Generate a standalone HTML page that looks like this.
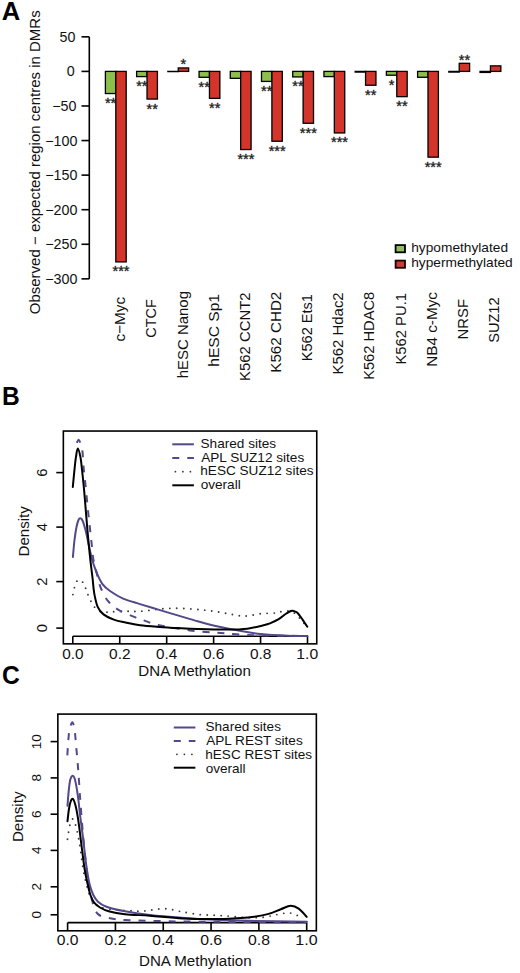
<!DOCTYPE html><html><head><meta charset="utf-8"><style>html,body{margin:0;padding:0;background:#fff;}svg{display:block}</style></head><body>
<svg width="520" height="973" viewBox="0 0 520 973">
<rect width="520" height="973" fill="#fff"/>
<text transform="translate(1.69,20.00) scale(1.0235,1)" font-size="25" font-family="Liberation Sans, sans-serif" font-weight="bold" fill="#000">A</text>
<line x1="89.3" y1="36.83" x2="89.3" y2="278.85" stroke="#000" stroke-width="1.6"/>
<line x1="81.5" y1="36.83" x2="89.3" y2="36.83" stroke="#000" stroke-width="1.6"/>
<text transform="translate(59.46,41.83) scale(1.0000,1)" font-size="14.3" font-family="Liberation Sans, sans-serif" fill="#111">50</text>
<line x1="81.5" y1="71.40" x2="89.3" y2="71.40" stroke="#000" stroke-width="1.6"/>
<text transform="translate(66.86,76.40) scale(1.0000,1)" font-size="14.3" font-family="Liberation Sans, sans-serif" fill="#111">0</text>
<line x1="81.5" y1="105.98" x2="89.3" y2="105.98" stroke="#000" stroke-width="1.6"/>
<text transform="translate(52.26,110.98) scale(1.0000,1)" font-size="14.3" font-family="Liberation Sans, sans-serif" fill="#111">−50</text>
<line x1="81.5" y1="140.55" x2="89.3" y2="140.55" stroke="#000" stroke-width="1.6"/>
<text transform="translate(45.25,145.55) scale(1.0000,1)" font-size="14.3" font-family="Liberation Sans, sans-serif" fill="#111">−100</text>
<line x1="81.5" y1="175.12" x2="89.3" y2="175.12" stroke="#000" stroke-width="1.6"/>
<text transform="translate(45.25,180.12) scale(1.0000,1)" font-size="14.3" font-family="Liberation Sans, sans-serif" fill="#111">−150</text>
<line x1="81.5" y1="209.70" x2="89.3" y2="209.70" stroke="#000" stroke-width="1.6"/>
<text transform="translate(45.25,214.70) scale(1.0000,1)" font-size="14.3" font-family="Liberation Sans, sans-serif" fill="#111">−200</text>
<line x1="81.5" y1="244.28" x2="89.3" y2="244.28" stroke="#000" stroke-width="1.6"/>
<text transform="translate(45.25,249.28) scale(1.0000,1)" font-size="14.3" font-family="Liberation Sans, sans-serif" fill="#111">−250</text>
<line x1="81.5" y1="278.85" x2="89.3" y2="278.85" stroke="#000" stroke-width="1.6"/>
<text transform="translate(45.25,283.85) scale(1.0000,1)" font-size="14.3" font-family="Liberation Sans, sans-serif" fill="#111">−300</text>
<text transform="translate(40.20,314.25) rotate(-90) scale(1.0000,1)" font-size="15" font-family="Liberation Sans, sans-serif" fill="#111">Observed − expected region centres in DMRs</text>
<text x="110.60" y="108.00" font-size="14.5" font-family="Liberation Sans, sans-serif" text-anchor="middle" fill="#222" stroke="#222" stroke-width="0.35" stroke-linejoin="round">**</text>
<text x="121.00" y="276.38" font-size="14.5" font-family="Liberation Sans, sans-serif" text-anchor="middle" fill="#222" stroke="#222" stroke-width="0.35" stroke-linejoin="round">***</text>
<text x="141.82" y="91.05" font-size="14.5" font-family="Liberation Sans, sans-serif" text-anchor="middle" fill="#222" stroke="#222" stroke-width="0.35" stroke-linejoin="round">**</text>
<text x="152.22" y="113.53" font-size="14.5" font-family="Liberation Sans, sans-serif" text-anchor="middle" fill="#222" stroke="#222" stroke-width="0.35" stroke-linejoin="round">**</text>
<text x="183.44" y="69.21" font-size="14.5" font-family="Liberation Sans, sans-serif" text-anchor="middle" fill="#222" stroke="#222" stroke-width="0.35" stroke-linejoin="round">*</text>
<text x="204.26" y="91.75" font-size="14.5" font-family="Liberation Sans, sans-serif" text-anchor="middle" fill="#222" stroke="#222" stroke-width="0.35" stroke-linejoin="round">**</text>
<text x="214.66" y="112.84" font-size="14.5" font-family="Liberation Sans, sans-serif" text-anchor="middle" fill="#222" stroke="#222" stroke-width="0.35" stroke-linejoin="round">**</text>
<text x="245.88" y="164.01" font-size="14.5" font-family="Liberation Sans, sans-serif" text-anchor="middle" fill="#222" stroke="#222" stroke-width="0.35" stroke-linejoin="round">***</text>
<text x="266.70" y="95.89" font-size="14.5" font-family="Liberation Sans, sans-serif" text-anchor="middle" fill="#222" stroke="#222" stroke-width="0.35" stroke-linejoin="round">**</text>
<text x="277.10" y="155.71" font-size="14.5" font-family="Liberation Sans, sans-serif" text-anchor="middle" fill="#222" stroke="#222" stroke-width="0.35" stroke-linejoin="round">***</text>
<text x="297.92" y="91.40" font-size="14.5" font-family="Liberation Sans, sans-serif" text-anchor="middle" fill="#222" stroke="#222" stroke-width="0.35" stroke-linejoin="round">**</text>
<text x="308.32" y="137.73" font-size="14.5" font-family="Liberation Sans, sans-serif" text-anchor="middle" fill="#222" stroke="#222" stroke-width="0.35" stroke-linejoin="round">***</text>
<text x="339.54" y="147.41" font-size="14.5" font-family="Liberation Sans, sans-serif" text-anchor="middle" fill="#222" stroke="#222" stroke-width="0.35" stroke-linejoin="round">***</text>
<text x="370.76" y="99.70" font-size="14.5" font-family="Liberation Sans, sans-serif" text-anchor="middle" fill="#222" stroke="#222" stroke-width="0.35" stroke-linejoin="round">**</text>
<text x="391.58" y="89.67" font-size="14.5" font-family="Liberation Sans, sans-serif" text-anchor="middle" fill="#222" stroke="#222" stroke-width="0.35" stroke-linejoin="round">*</text>
<text x="401.98" y="111.11" font-size="14.5" font-family="Liberation Sans, sans-serif" text-anchor="middle" fill="#222" stroke="#222" stroke-width="0.35" stroke-linejoin="round">**</text>
<text x="433.20" y="171.61" font-size="14.5" font-family="Liberation Sans, sans-serif" text-anchor="middle" fill="#222" stroke="#222" stroke-width="0.35" stroke-linejoin="round">***</text>
<text x="464.42" y="64.58" font-size="14.5" font-family="Liberation Sans, sans-serif" text-anchor="middle" fill="#222" stroke="#222" stroke-width="0.35" stroke-linejoin="round">**</text>
<rect x="105.40" y="71.40" width="10.4" height="22.13" fill="#8CBF4C" stroke="#000" stroke-width="1.3"/>
<rect x="115.80" y="71.40" width="10.4" height="190.51" fill="#D3352B" stroke="#000" stroke-width="1.3"/>
<rect x="136.62" y="71.40" width="10.4" height="5.19" fill="#8CBF4C" stroke="#000" stroke-width="1.3"/>
<rect x="147.02" y="71.40" width="10.4" height="27.66" fill="#D3352B" stroke="#000" stroke-width="1.3"/>
<rect x="167.84" y="71.40" width="10.4" height="0.21" fill="#8CBF4C" stroke="#000" stroke-width="1.3"/>
<rect x="178.24" y="67.94" width="10.4" height="3.46" fill="#D3352B" stroke="#000" stroke-width="1.3"/>
<rect x="199.06" y="71.40" width="10.4" height="5.88" fill="#8CBF4C" stroke="#000" stroke-width="1.3"/>
<rect x="209.46" y="71.40" width="10.4" height="26.97" fill="#D3352B" stroke="#000" stroke-width="1.3"/>
<rect x="230.28" y="71.40" width="10.4" height="6.92" fill="#8CBF4C" stroke="#000" stroke-width="1.3"/>
<rect x="240.68" y="71.40" width="10.4" height="78.14" fill="#D3352B" stroke="#000" stroke-width="1.3"/>
<rect x="261.50" y="71.40" width="10.4" height="10.03" fill="#8CBF4C" stroke="#000" stroke-width="1.3"/>
<rect x="271.90" y="71.40" width="10.4" height="69.84" fill="#D3352B" stroke="#000" stroke-width="1.3"/>
<rect x="292.72" y="71.40" width="10.4" height="5.53" fill="#8CBF4C" stroke="#000" stroke-width="1.3"/>
<rect x="303.12" y="71.40" width="10.4" height="51.86" fill="#D3352B" stroke="#000" stroke-width="1.3"/>
<rect x="323.94" y="71.40" width="10.4" height="5.19" fill="#8CBF4C" stroke="#000" stroke-width="1.3"/>
<rect x="334.34" y="71.40" width="10.4" height="61.54" fill="#D3352B" stroke="#000" stroke-width="1.3"/>
<rect x="355.16" y="71.40" width="10.4" height="0.69" fill="#8CBF4C" stroke="#000" stroke-width="1.3"/>
<rect x="365.56" y="71.40" width="10.4" height="13.83" fill="#D3352B" stroke="#000" stroke-width="1.3"/>
<rect x="386.38" y="71.40" width="10.4" height="3.80" fill="#8CBF4C" stroke="#000" stroke-width="1.3"/>
<rect x="396.78" y="71.40" width="10.4" height="25.24" fill="#D3352B" stroke="#000" stroke-width="1.3"/>
<rect x="417.60" y="71.40" width="10.4" height="5.88" fill="#8CBF4C" stroke="#000" stroke-width="1.3"/>
<rect x="428.00" y="71.40" width="10.4" height="85.75" fill="#D3352B" stroke="#000" stroke-width="1.3"/>
<rect x="448.82" y="71.40" width="10.4" height="0.69" fill="#8CBF4C" stroke="#000" stroke-width="1.3"/>
<rect x="459.22" y="63.31" width="10.4" height="8.09" fill="#D3352B" stroke="#000" stroke-width="1.3"/>
<rect x="480.04" y="71.40" width="10.4" height="1.04" fill="#8CBF4C" stroke="#000" stroke-width="1.3"/>
<rect x="490.44" y="65.87" width="10.4" height="5.53" fill="#D3352B" stroke="#000" stroke-width="1.3"/>
<text transform="translate(125.32,341.41) rotate(-90) scale(1.0042,1)" font-size="15.2" font-family="Liberation Sans, sans-serif" fill="#111">c−Myc</text>
<text transform="translate(156.46,337.72) rotate(-90) scale(0.9537,1)" font-size="15.2" font-family="Liberation Sans, sans-serif" fill="#111">CTCF</text>
<text transform="translate(187.60,378.35) rotate(-90) scale(0.9857,1)" font-size="15.2" font-family="Liberation Sans, sans-serif" fill="#111">hESC Nanog</text>
<text transform="translate(218.74,366.69) rotate(-90) scale(1.0252,1)" font-size="15.2" font-family="Liberation Sans, sans-serif" fill="#111">hESC Sp1</text>
<text transform="translate(249.88,380.89) rotate(-90) scale(0.9801,1)" font-size="15.2" font-family="Liberation Sans, sans-serif" fill="#111">K562 CCNT2</text>
<text transform="translate(281.02,372.71) rotate(-90) scale(0.9988,1)" font-size="15.2" font-family="Liberation Sans, sans-serif" fill="#111">K562 CHD2</text>
<text transform="translate(312.16,361.16) rotate(-90) scale(0.9568,1)" font-size="15.2" font-family="Liberation Sans, sans-serif" fill="#111">K562 Ets1</text>
<text transform="translate(343.30,374.39) rotate(-90) scale(0.9807,1)" font-size="15.2" font-family="Liberation Sans, sans-serif" fill="#111">K562 Hdac2</text>
<text transform="translate(374.44,379.87) rotate(-90) scale(0.9656,1)" font-size="15.2" font-family="Liberation Sans, sans-serif" fill="#111">K562 HDAC8</text>
<text transform="translate(405.58,364.58) rotate(-90) scale(0.9736,1)" font-size="15.2" font-family="Liberation Sans, sans-serif" fill="#111">K562 PU.1</text>
<text transform="translate(436.72,366.83) rotate(-90) scale(1.0075,1)" font-size="15.2" font-family="Liberation Sans, sans-serif" fill="#111">NB4 c-Myc</text>
<text transform="translate(467.86,339.39) rotate(-90) scale(0.9767,1)" font-size="15.2" font-family="Liberation Sans, sans-serif" fill="#111">NRSF</text>
<text transform="translate(499.00,342.83) rotate(-90) scale(0.9607,1)" font-size="15.2" font-family="Liberation Sans, sans-serif" fill="#111">SUZ12</text>
<rect x="395.6" y="245.1" width="9.4" height="7.2" fill="#93BF5E" stroke="#000" stroke-width="1.8"/>
<rect x="395.6" y="260.6" width="9.4" height="7.2" fill="#C93C38" stroke="#1a0000" stroke-width="1.8"/>
<text transform="translate(411.24,252.30) scale(1.0549,1)" font-size="13" font-family="Liberation Sans, sans-serif" fill="#111">hypomethylated</text>
<text transform="translate(411.24,266.70) scale(1.0574,1)" font-size="13" font-family="Liberation Sans, sans-serif" fill="#111">hypermethylated</text>
<text transform="translate(2.08,404.80) scale(0.9836,1)" font-size="25" font-family="Liberation Sans, sans-serif" font-weight="bold" fill="#000">B</text>
<rect x="63.35" y="431.05" width="253.4" height="212.8" fill="none" stroke="#000" stroke-width="1.6"/>
<line x1="56.3" y1="472.6" x2="63.35" y2="472.6" stroke="#000" stroke-width="1.6"/>
<text transform="translate(46.90,476.74) rotate(-90) scale(1.0000,1)" font-size="14.8" font-family="Liberation Sans, sans-serif" fill="#111">6</text>
<line x1="56.3" y1="527.1" x2="63.35" y2="527.1" stroke="#000" stroke-width="1.6"/>
<text transform="translate(46.90,531.17) rotate(-90) scale(1.0000,1)" font-size="14.8" font-family="Liberation Sans, sans-serif" fill="#111">4</text>
<line x1="56.3" y1="581.6" x2="63.35" y2="581.6" stroke="#000" stroke-width="1.6"/>
<text transform="translate(46.90,585.74) rotate(-90) scale(1.0000,1)" font-size="14.8" font-family="Liberation Sans, sans-serif" fill="#111">2</text>
<line x1="56.3" y1="628.1" x2="63.35" y2="628.1" stroke="#000" stroke-width="1.6"/>
<text transform="translate(46.90,632.24) rotate(-90) scale(1.0000,1)" font-size="14.8" font-family="Liberation Sans, sans-serif" fill="#111">0</text>
<line x1="72.8" y1="636.2" x2="307.5" y2="636.2" stroke="#000" stroke-width="1.6"/>
<line x1="72.80" y1="636.2" x2="72.80" y2="643.85" stroke="#000" stroke-width="1.6"/>
<text transform="translate(62.14,658.90) scale(1.0882,1)" font-size="14.1" font-family="Liberation Sans, sans-serif" fill="#111">0.0</text>
<line x1="119.74" y1="636.2" x2="119.74" y2="643.85" stroke="#000" stroke-width="1.6"/>
<text transform="translate(109.07,658.90) scale(1.0966,1)" font-size="14.1" font-family="Liberation Sans, sans-serif" fill="#111">0.2</text>
<line x1="166.68" y1="636.2" x2="166.68" y2="643.85" stroke="#000" stroke-width="1.6"/>
<text transform="translate(156.02,658.90) scale(1.0799,1)" font-size="14.1" font-family="Liberation Sans, sans-serif" fill="#111">0.4</text>
<line x1="213.62" y1="636.2" x2="213.62" y2="643.85" stroke="#000" stroke-width="1.6"/>
<text transform="translate(202.95,658.90) scale(1.0966,1)" font-size="14.1" font-family="Liberation Sans, sans-serif" fill="#111">0.6</text>
<line x1="260.56" y1="636.2" x2="260.56" y2="643.85" stroke="#000" stroke-width="1.6"/>
<text transform="translate(249.89,658.90) scale(1.0966,1)" font-size="14.1" font-family="Liberation Sans, sans-serif" fill="#111">0.8</text>
<line x1="307.50" y1="636.2" x2="307.50" y2="643.85" stroke="#000" stroke-width="1.6"/>
<text transform="translate(296.35,658.90) scale(1.1137,1)" font-size="14.1" font-family="Liberation Sans, sans-serif" fill="#111">1.0</text>
<text transform="translate(29.00,556.41) rotate(-90) scale(1.0398,1)" font-size="14.5" font-family="Liberation Sans, sans-serif" fill="#111">Density</text>
<text transform="translate(138.29,675.50) scale(1.0812,1)" font-size="14" font-family="Liberation Sans, sans-serif" fill="#111">DNA Methylation</text>
<path d="M72.90,594.60 C73.22,593.25 73.90,588.97 74.80,586.50 C75.70,584.03 76.73,580.23 78.30,579.80 C79.87,579.37 82.88,582.17 84.20,583.90 C85.52,585.63 85.40,588.00 86.20,590.20 C87.00,592.40 87.95,594.80 89.00,597.10 C90.05,599.40 91.15,601.88 92.50,604.00 C93.85,606.12 95.18,608.45 97.10,609.80 C99.02,611.15 101.60,611.77 104.00,612.10 C106.40,612.43 107.75,611.93 111.50,611.80 C115.25,611.67 121.75,611.38 126.50,611.30 C131.25,611.22 133.92,611.72 140.00,611.30 C146.08,610.88 156.58,609.30 163.00,608.80 C169.42,608.30 172.08,608.13 178.50,608.30 C184.92,608.47 194.13,609.07 201.50,609.80 C208.87,610.53 217.12,611.83 222.70,612.70 C228.28,613.57 231.18,614.43 235.00,615.00 C238.82,615.57 241.23,616.32 245.60,616.10 C249.97,615.88 256.20,614.22 261.20,613.70 C266.20,613.18 271.97,613.40 275.60,613.00 C279.23,612.60 280.55,611.60 283.00,611.30 C285.45,611.00 288.07,610.63 290.30,611.20 C292.53,611.77 294.52,613.15 296.40,614.70 C298.28,616.25 300.02,618.65 301.60,620.50 C303.18,622.35 305.18,624.92 305.90,625.80" fill="none" stroke="#3a3a44" stroke-width="1.9" stroke-linecap="round" stroke-dasharray="0 7.0"/>
<path d="M76.80,443.00 C77.10,442.45 77.98,439.62 78.60,439.70 C79.22,439.78 79.85,441.45 80.50,443.50 C81.15,445.55 81.98,448.02 82.50,452.00 C83.02,455.98 83.15,462.40 83.60,467.40 C84.05,472.40 84.47,474.85 85.20,482.00 C85.93,489.15 87.20,502.50 88.00,510.30 C88.80,518.10 89.40,523.32 90.00,528.80 C90.60,534.28 91.08,538.40 91.60,543.20 C92.12,548.00 92.28,552.75 93.10,557.60 C93.92,562.45 95.25,567.35 96.50,572.30 C97.75,577.25 98.67,582.48 100.60,587.30 C102.53,592.12 105.12,597.45 108.10,601.20 C111.08,604.95 114.27,607.22 118.50,609.80 C122.73,612.38 129.28,614.93 133.50,616.70 C137.72,618.47 139.52,618.98 143.80,620.40 C148.08,621.82 151.50,623.53 159.20,625.20 C166.90,626.87 180.38,629.15 190.00,630.40 C199.62,631.65 209.20,632.07 216.90,632.70 C224.60,633.33 228.88,633.75 236.20,634.20 C243.52,634.65 248.92,635.10 260.80,635.40 C272.68,635.70 299.72,635.90 307.50,636.00" fill="none" stroke="#54478A" stroke-width="2.0" stroke-linecap="butt" stroke-linejoin="round" stroke-dasharray="7.0 8.0" stroke-dashoffset="14.65"/>
<path d="M72.90,556.90 C73.17,554.08 73.90,544.98 74.50,540.00 C75.10,535.02 75.83,530.33 76.50,527.00 C77.17,523.67 77.87,521.45 78.50,520.00 C79.13,518.55 79.63,518.22 80.30,518.30 C80.97,518.38 81.63,518.55 82.50,520.50 C83.37,522.45 84.67,526.92 85.50,530.00 C86.33,533.08 86.92,536.28 87.50,539.00 C88.08,541.72 88.23,542.87 89.00,546.30 C89.77,549.73 90.93,555.48 92.10,559.60 C93.27,563.72 94.30,566.97 96.00,571.00 C97.70,575.03 99.90,580.42 102.30,583.80 C104.70,587.18 106.93,588.83 110.40,591.30 C113.87,593.77 118.17,596.47 123.10,598.60 C128.03,600.73 133.98,602.22 140.00,604.10 C146.02,605.98 152.78,607.98 159.20,609.90 C165.62,611.82 172.08,613.72 178.50,615.60 C184.92,617.48 191.30,619.43 197.70,621.20 C204.10,622.97 209.85,624.60 216.90,626.20 C223.95,627.80 232.68,629.50 240.00,630.80 C247.32,632.10 252.85,633.18 260.80,634.00 C268.75,634.82 279.92,635.37 287.70,635.70 C295.48,636.03 304.20,635.95 307.50,636.00" fill="none" stroke="#54478A" stroke-width="2.0" stroke-linecap="round" stroke-linejoin="round"/>
<path d="M72.80,487.00 C73.13,483.60 74.28,471.53 74.80,466.60 C75.32,461.67 75.40,460.42 75.90,457.40 C76.40,454.38 77.03,448.50 77.80,448.50 C78.57,448.50 79.78,453.73 80.50,457.40 C81.22,461.07 81.48,464.87 82.10,470.50 C82.72,476.13 83.30,481.15 84.20,491.20 C85.10,501.25 86.53,519.90 87.50,530.80 C88.47,541.70 89.37,550.40 90.00,556.60 C90.63,562.80 90.87,564.35 91.30,568.00 C91.73,571.65 92.12,574.32 92.60,578.50 C93.08,582.68 93.35,588.37 94.20,593.10 C95.05,597.83 96.15,603.35 97.70,606.90 C99.25,610.45 100.82,612.28 103.50,614.40 C106.18,616.52 110.15,618.25 113.80,619.60 C117.45,620.95 121.03,621.57 125.40,622.50 C129.77,623.43 134.37,624.47 140.00,625.20 C145.63,625.93 152.78,626.42 159.20,626.90 C165.62,627.38 172.08,627.75 178.50,628.10 C184.92,628.45 189.70,628.75 197.70,629.00 C205.70,629.25 218.23,629.65 226.50,629.60 C234.77,629.55 240.95,629.47 247.30,628.70 C253.65,627.93 260.82,625.90 264.60,625.00 C268.38,624.10 267.65,624.27 270.00,623.30 C272.35,622.33 276.10,620.75 278.70,619.20 C281.30,617.65 283.58,615.37 285.60,614.00 C287.62,612.63 289.60,611.53 290.80,611.00 C292.00,610.47 291.80,610.58 292.80,610.80 C293.80,611.02 295.42,611.18 296.80,612.30 C298.18,613.42 299.80,615.77 301.10,617.50 C302.40,619.23 303.57,621.17 304.60,622.70 C305.63,624.23 306.85,626.03 307.30,626.70" fill="none" stroke="#000" stroke-width="2.0" stroke-linecap="round" stroke-linejoin="round"/>
<line x1="172.3" y1="444.3" x2="193.9" y2="444.3" stroke="#54478A" stroke-width="2.0"/>
<line x1="172.3" y1="458.1" x2="193.9" y2="458.1" stroke="#54478A" stroke-width="2.0" stroke-dasharray="7 8"/>
<line x1="175.4" y1="471.7" x2="191" y2="471.7" stroke="#3a3a44" stroke-width="1.8" stroke-linecap="round" stroke-dasharray="0 7.5"/>
<line x1="172.3" y1="485.3" x2="193.9" y2="485.3" stroke="#000" stroke-width="2.0"/>
<text transform="translate(200.52,448.10) scale(1.0462,1)" font-size="13.0" font-family="Liberation Sans, sans-serif" fill="#111">Shared sites</text>
<text transform="translate(201.20,461.60) scale(1.0462,1)" font-size="13.0" font-family="Liberation Sans, sans-serif" fill="#111">APL SUZ12 sites</text>
<text transform="translate(200.25,474.90) scale(1.0462,1)" font-size="13.0" font-family="Liberation Sans, sans-serif" fill="#111">hESC SUZ12 sites</text>
<text transform="translate(200.66,488.60) scale(1.0462,1)" font-size="13.0" font-family="Liberation Sans, sans-serif" fill="#111">overall</text>
<text transform="translate(2.12,684.20) scale(0.9846,1)" font-size="25" font-family="Liberation Sans, sans-serif" font-weight="bold" fill="#000">C</text>
<rect x="57.85" y="714.1" width="258.5" height="216.69999999999993" fill="none" stroke="#000" stroke-width="1.6"/>
<line x1="50.6" y1="741.6" x2="57.85" y2="741.6" stroke="#000" stroke-width="1.6"/>
<text transform="translate(41.30,749.36) rotate(-90) scale(1.0000,1)" font-size="13.5" font-family="Liberation Sans, sans-serif" fill="#111">10</text>
<line x1="50.6" y1="777.9" x2="57.85" y2="777.9" stroke="#000" stroke-width="1.6"/>
<text transform="translate(41.30,781.61) rotate(-90) scale(1.0000,1)" font-size="13.5" font-family="Liberation Sans, sans-serif" fill="#111">8</text>
<line x1="50.6" y1="814.2" x2="57.85" y2="814.2" stroke="#000" stroke-width="1.6"/>
<text transform="translate(41.30,817.98) rotate(-90) scale(1.0000,1)" font-size="13.5" font-family="Liberation Sans, sans-serif" fill="#111">6</text>
<line x1="50.6" y1="850.4" x2="57.85" y2="850.4" stroke="#000" stroke-width="1.6"/>
<text transform="translate(41.30,854.11) rotate(-90) scale(1.0000,1)" font-size="13.5" font-family="Liberation Sans, sans-serif" fill="#111">4</text>
<line x1="50.6" y1="886.8" x2="57.85" y2="886.8" stroke="#000" stroke-width="1.6"/>
<text transform="translate(41.30,890.58) rotate(-90) scale(1.0000,1)" font-size="13.5" font-family="Liberation Sans, sans-serif" fill="#111">2</text>
<line x1="50.6" y1="914.8" x2="57.85" y2="914.8" stroke="#000" stroke-width="1.6"/>
<text transform="translate(41.30,918.58) rotate(-90) scale(1.0000,1)" font-size="13.5" font-family="Liberation Sans, sans-serif" fill="#111">0</text>
<line x1="67.6" y1="922.6" x2="306.7" y2="922.6" stroke="#000" stroke-width="1.6"/>
<line x1="67.60" y1="922.6" x2="67.60" y2="930.8" stroke="#000" stroke-width="1.6"/>
<text transform="translate(56.72,945.20) scale(1.1340,1)" font-size="13.8" font-family="Liberation Sans, sans-serif" fill="#111">0.0</text>
<line x1="115.42" y1="922.6" x2="115.42" y2="930.8" stroke="#000" stroke-width="1.6"/>
<text transform="translate(104.54,945.20) scale(1.1427,1)" font-size="13.8" font-family="Liberation Sans, sans-serif" fill="#111">0.2</text>
<line x1="163.24" y1="922.6" x2="163.24" y2="930.8" stroke="#000" stroke-width="1.6"/>
<text transform="translate(152.37,945.20) scale(1.1254,1)" font-size="13.8" font-family="Liberation Sans, sans-serif" fill="#111">0.4</text>
<line x1="211.06" y1="922.6" x2="211.06" y2="930.8" stroke="#000" stroke-width="1.6"/>
<text transform="translate(200.18,945.20) scale(1.1427,1)" font-size="13.8" font-family="Liberation Sans, sans-serif" fill="#111">0.6</text>
<line x1="258.88" y1="922.6" x2="258.88" y2="930.8" stroke="#000" stroke-width="1.6"/>
<text transform="translate(248.00,945.20) scale(1.1427,1)" font-size="13.8" font-family="Liberation Sans, sans-serif" fill="#111">0.8</text>
<line x1="306.70" y1="922.6" x2="306.70" y2="930.8" stroke="#000" stroke-width="1.6"/>
<text transform="translate(295.33,945.20) scale(1.1606,1)" font-size="13.8" font-family="Liberation Sans, sans-serif" fill="#111">1.0</text>
<text transform="translate(23.20,842.12) rotate(-90) scale(1.0483,1)" font-size="14.5" font-family="Liberation Sans, sans-serif" fill="#111">Density</text>
<text transform="translate(138.99,965.80) scale(1.0802,1)" font-size="14" font-family="Liberation Sans, sans-serif" fill="#111">DNA Methylation</text>
<path d="M67.50,839.20 C67.68,837.98 68.18,834.33 68.60,831.90 C69.02,829.47 69.43,826.67 70.00,824.60 C70.57,822.53 71.37,820.27 72.00,819.50 C72.63,818.73 73.15,818.88 73.80,820.00 C74.45,821.12 75.25,823.90 75.90,826.20 C76.55,828.50 77.18,831.37 77.70,833.80 C78.22,836.23 78.58,838.42 79.00,840.80 C79.42,843.18 79.82,845.57 80.20,848.10 C80.58,850.63 80.92,853.18 81.30,856.00 C81.68,858.82 81.97,861.67 82.50,865.00 C83.03,868.33 83.68,872.17 84.50,876.00 C85.32,879.83 86.15,883.92 87.40,888.00 C88.65,892.08 89.70,897.28 92.00,900.50 C94.30,903.72 97.05,905.73 101.20,907.30 C105.35,908.87 111.80,909.33 116.90,909.90 C122.00,910.47 128.03,910.48 131.80,910.70 C135.57,910.92 136.98,911.20 139.50,911.20 C142.02,911.20 144.43,910.97 146.90,910.70 C149.37,910.43 151.78,909.92 154.30,909.60 C156.82,909.28 159.45,908.88 162.00,908.80 C164.55,908.72 167.18,908.78 169.60,909.10 C172.02,909.42 174.00,910.17 176.50,910.70 C179.00,911.23 180.75,911.65 184.60,912.30 C188.45,912.95 194.60,914.10 199.60,914.60 C204.60,915.10 209.60,915.03 214.60,915.30 C219.60,915.57 224.53,915.83 229.60,916.20 C234.67,916.57 240.27,917.27 245.00,917.50 C249.73,917.73 254.35,917.72 258.00,917.60 C261.65,917.48 264.28,917.20 266.90,916.80 C269.52,916.40 271.30,915.70 273.70,915.20 C276.10,914.70 278.82,914.20 281.30,913.80 C283.78,913.40 286.18,912.65 288.60,912.80 C291.02,912.95 293.57,913.78 295.80,914.70 C298.03,915.62 300.97,917.70 302.00,918.30" fill="none" stroke="#3a3a44" stroke-width="1.9" stroke-linecap="round" stroke-dasharray="0 7.0"/>
<path d="M67.30,756.00 C67.40,754.33 67.68,749.17 67.90,746.00 C68.12,742.83 68.32,739.78 68.60,737.00 C68.88,734.22 69.02,731.73 69.60,729.30 C70.18,726.87 71.33,722.78 72.10,722.40 C72.87,722.02 73.68,724.90 74.20,727.00 C74.72,729.10 74.87,731.67 75.20,735.00 C75.53,738.33 75.85,743.08 76.20,747.00 C76.55,750.92 76.97,754.67 77.30,758.50 C77.63,762.33 77.92,766.25 78.20,770.00 C78.48,773.75 78.73,777.03 79.00,781.00 C79.27,784.97 79.55,790.13 79.80,793.80 C80.05,797.47 80.25,799.67 80.50,803.00 C80.75,806.33 81.02,810.13 81.30,813.80 C81.58,817.47 81.83,820.63 82.20,825.00 C82.57,829.37 82.95,834.17 83.50,840.00 C84.05,845.83 84.75,853.33 85.50,860.00 C86.25,866.67 87.08,874.00 88.00,880.00 C88.92,886.00 89.80,891.00 91.00,896.00 C92.20,901.00 93.70,906.75 95.20,910.00 C96.70,913.25 97.28,914.07 100.00,915.50 C102.72,916.93 107.33,917.85 111.50,918.60 C115.67,919.35 116.08,919.57 125.00,920.00 C133.92,920.43 150.00,920.90 165.00,921.20 C180.00,921.50 191.38,921.62 215.00,921.80 C238.62,921.98 291.42,922.22 306.70,922.30" fill="none" stroke="#54478A" stroke-width="2.0" stroke-linecap="butt" stroke-linejoin="round" stroke-dasharray="7.0 8.0" stroke-dashoffset="14.28"/>
<path d="M67.50,805.80 C67.68,803.50 68.15,796.30 68.60,792.00 C69.05,787.70 69.58,782.68 70.20,780.00 C70.82,777.32 71.53,776.07 72.30,775.90 C73.07,775.73 74.02,776.65 74.80,779.00 C75.58,781.35 76.37,786.25 77.00,790.00 C77.63,793.75 78.13,797.67 78.60,801.50 C79.07,805.33 79.35,809.15 79.80,813.00 C80.25,816.85 80.80,820.73 81.30,824.60 C81.80,828.47 82.32,832.30 82.80,836.20 C83.28,840.10 83.58,842.87 84.20,848.00 C84.82,853.13 85.63,861.08 86.50,867.00 C87.37,872.92 88.27,878.83 89.40,883.50 C90.53,888.17 91.87,891.97 93.30,895.00 C94.73,898.03 95.92,899.78 98.00,901.70 C100.08,903.62 101.30,904.90 105.80,906.50 C110.30,908.10 117.63,909.88 125.00,911.30 C132.37,912.72 140.50,913.92 150.00,915.00 C159.50,916.08 171.10,917.00 182.00,917.80 C192.90,918.60 204.40,919.30 215.40,919.80 C226.40,920.30 232.75,920.47 248.00,920.80 C263.25,921.13 297.08,921.63 306.90,921.80" fill="none" stroke="#54478A" stroke-width="2.0" stroke-linecap="round" stroke-linejoin="round"/>
<path d="M67.50,821.20 C67.72,819.33 68.30,813.20 68.80,810.00 C69.30,806.80 69.83,803.87 70.50,802.00 C71.17,800.13 71.97,798.23 72.80,798.80 C73.63,799.37 74.72,802.63 75.50,805.40 C76.28,808.17 76.85,811.55 77.50,815.40 C78.15,819.25 78.77,823.77 79.40,828.50 C80.03,833.23 80.43,837.05 81.30,843.80 C82.17,850.55 83.57,862.38 84.60,869.00 C85.63,875.62 86.53,879.17 87.50,883.50 C88.47,887.83 89.28,891.80 90.40,895.00 C91.52,898.20 92.60,900.62 94.20,902.70 C95.80,904.78 97.58,906.07 100.00,907.50 C102.42,908.93 104.53,910.18 108.70,911.30 C112.87,912.42 118.12,913.45 125.00,914.20 C131.88,914.95 140.38,915.10 150.00,915.80 C159.62,916.50 171.80,917.87 182.70,918.40 C193.60,918.93 204.52,919.17 215.40,919.00 C226.28,918.83 239.28,918.22 248.00,917.40 C256.72,916.58 262.23,915.47 267.70,914.10 C273.17,912.73 276.98,910.58 280.80,909.20 C284.62,907.82 287.62,905.90 290.60,905.80 C293.58,905.70 296.02,906.75 298.70,908.60 C301.38,910.45 305.37,915.52 306.70,916.90" fill="none" stroke="#000" stroke-width="2.0" stroke-linecap="round" stroke-linejoin="round"/>
<line x1="173.8" y1="727.5" x2="195.4" y2="727.5" stroke="#54478A" stroke-width="2.0"/>
<line x1="173.8" y1="740.9" x2="195.4" y2="740.9" stroke="#54478A" stroke-width="2.0" stroke-dasharray="7 8"/>
<line x1="176.9" y1="754.3" x2="193" y2="754.3" stroke="#3a3a44" stroke-width="1.8" stroke-linecap="round" stroke-dasharray="0 7.5"/>
<line x1="173.8" y1="767.7" x2="195.4" y2="767.7" stroke="#000" stroke-width="2.0"/>
<text transform="translate(205.52,731.30) scale(1.0286,1)" font-size="13.2" font-family="Liberation Sans, sans-serif" fill="#111">Shared sites</text>
<text transform="translate(206.20,744.60) scale(1.0286,1)" font-size="13.2" font-family="Liberation Sans, sans-serif" fill="#111">APL REST sites</text>
<text transform="translate(205.25,758.80) scale(1.0286,1)" font-size="13.2" font-family="Liberation Sans, sans-serif" fill="#111">hESC REST sites</text>
<text transform="translate(205.66,772.50) scale(1.0286,1)" font-size="13.2" font-family="Liberation Sans, sans-serif" fill="#111">overall</text>
</svg></body></html>
